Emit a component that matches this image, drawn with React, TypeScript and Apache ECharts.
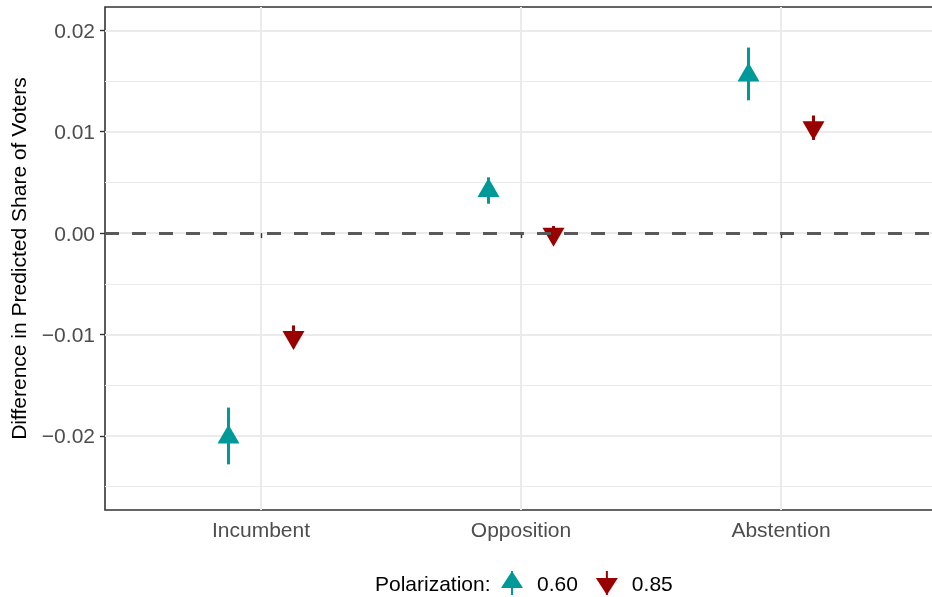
import React, { useEffect, useRef } from "react";
import * as echarts from "echarts";

const categories = ["Incumbent", "Opposition", "Abstention"];
const groupNames = ["0.60", "0.85"];
const est060 = [-0.0201, 0.0042, 0.0156];
const low060 = [-0.0228, 0.0029, 0.0131];
const high060 = [-0.0172, 0.0055, 0.0183];
const est085 = [-0.0103, -0.0001, 0.0104];
const low085 = [-0.0113, -0.0009, 0.0092];
const high085 = [-0.0091, 0.0007, 0.0116];
const yMajorTicks = [-0.02, -0.01, 0, 0.01, 0.02];
const yMinorTicks = [-0.025, -0.015, -0.005, 0.005, 0.015];
const xTickPositions = [1, 2, 3];
const legendTitle = "Polarization:";
const yTitle = "Difference in Predicted Share of Voters";

const TEAL = "#009999";
const RED = "#990000";
const FONT = "'Liberation Sans', Arial, Helvetica, sans-serif";
const DODGE = 0.125;
const Y_MIN = -0.0273;
const Y_MAX = 0.0223;

export default function App() {
  const ref = useRef<HTMLDivElement>(null);
  useEffect(() => {
    if (!ref.current) return;
    const chart = echarts.init(ref.current, undefined, { renderer: "svg" });

    const groups = [
      { name: groupNames[0], est: est060, low: low060, high: high060, color: TEAL, off: -DODGE, up: true },
      { name: groupNames[1], est: est085, low: low085, high: high085, color: RED, off: DODGE, up: false },
    ];

    const series: any[] = [];
    series.push({
      type: "line",
      name: "zero",
      data: [],
      silent: true,
      z: 1,
      markLine: {
        silent: true,
        symbol: "none",
        label: { show: false },
        lineStyle: { color: "#595959", width: 3, type: [14, 13] },
        data: [{ yAxis: 0 }],
      },
    });
    groups.forEach((g) => {
      series.push({
        type: "custom",
        name: g.name + "-err",
        z: 3,
        silent: true,
        data: categories.map((_, i) => [i + 1 + g.off, g.low[i], g.high[i]]),
        encode: { x: 0, y: [1, 2] },
        renderItem: (params: any, api: any) => {
          const x = api.value(0);
          const p1 = api.coord([x, api.value(1)]);
          const p2 = api.coord([x, api.value(2)]);
          return {
            type: "line",
            shape: { x1: p1[0], y1: p1[1], x2: p2[0], y2: p2[1] },
            style: { stroke: g.color, lineWidth: 3 },
          };
        },
      });
      series.push({
        type: "scatter",
        name: g.name,
        z: 4,
        data: categories.map((_, i) => [i + 1 + g.off, g.est[i]]),
        symbol: "triangle",
        symbolSize: [22, 19],
        symbolRotate: g.up ? 0 : 180,
        symbolOffset: [0, g.up ? -3 : 3],
        itemStyle: { color: g.color, opacity: 1 },
      });
    });

    chart.setOption({
      animation: false,
      textStyle: { fontFamily: FONT },
      grid: {
        left: 105,
        width: 832,
        top: 7,
        bottom: 87,
        outerBoundsMode: "none",
        containLabel: false,
        show: true,
        borderColor: "#333333",
        borderWidth: 1.6,
        backgroundColor: "transparent",
      },
      xAxis: {
        type: "value",
        min: 0.4,
        max: 3.6,
        axisLine: { show: false },
        axisTick: {
          show: true,
          length: 5,
          lineStyle: { color: "#333333", width: 1.4 },
          customValues: xTickPositions,
        },
        axisLabel: {
          customValues: xTickPositions,
          formatter: (v: number) => categories[Math.round(v) - 1] ?? "",
          color: "#4D4D4D",
          fontSize: 21,
          fontFamily: FONT,
          margin: 9,
        },
        splitLine: { show: true, lineStyle: { color: "#EBEBEB", width: 2 } },
      },
      yAxis: [
        {
          type: "value",
          min: Y_MIN,
          max: Y_MAX,
          name: yTitle,
          nameLocation: "middle",
          nameGap: 76,
          nameTextStyle: { color: "#000000", fontSize: 21, fontFamily: FONT },
          axisLine: { show: false },
          axisTick: {
            show: true,
            length: 5,
            lineStyle: { color: "#333333", width: 1.4 },
            customValues: yMajorTicks,
          },
          axisLabel: {
            customValues: yMajorTicks,
            formatter: (v: number) => v.toFixed(2).replace("-", "\u2212"),
            color: "#4D4D4D",
            fontSize: 21,
            fontFamily: FONT,
            margin: 10,
          },
          splitLine: { show: true, lineStyle: { color: "#EBEBEB", width: 2 } },
        },
        {
          type: "value",
          min: Y_MIN,
          max: Y_MAX,
          position: "left",
          axisLine: { show: false },
          axisTick: { show: false, customValues: yMinorTicks },
          axisLabel: { show: false, customValues: yMinorTicks },
          splitLine: { show: true, lineStyle: { color: "#EBEBEB", width: 1 } },
        },
      ],
      legend: {
        show: true,
        left: 501,
        top: 571,
        padding: 0,
        itemWidth: 40,
        itemHeight: 24,
        itemGap: 18,
        selectedMode: false,
        textStyle: { color: "#000000", fontSize: 21, fontFamily: FONT },
        data: [
          { name: groupNames[0], icon: "path://M11,0 L22,17 L0,17 Z M10,0 L12,0 L12,24 L10,24 Z" },
          { name: groupNames[1], icon: "path://M0,7 L22,7 L11,24 Z M10,0 L12,0 L12,24 L10,24 Z" },
        ],
      },
      graphic: [
        {
          type: "text",
          left: 375,
          top: 571,
          style: {
            text: legendTitle,
            fill: "#000000",
            font: `21px ${FONT}`,
            lineHeight: 24,
            verticalAlign: "top",
          },
        },
      ],
      series,
    });
    return () => chart.dispose();
  }, []);
  return (
    <div
      ref={ref}
      style={{ position: "fixed", left: 0, top: 0, width: 932, height: 597 }}
    />
  );
}
